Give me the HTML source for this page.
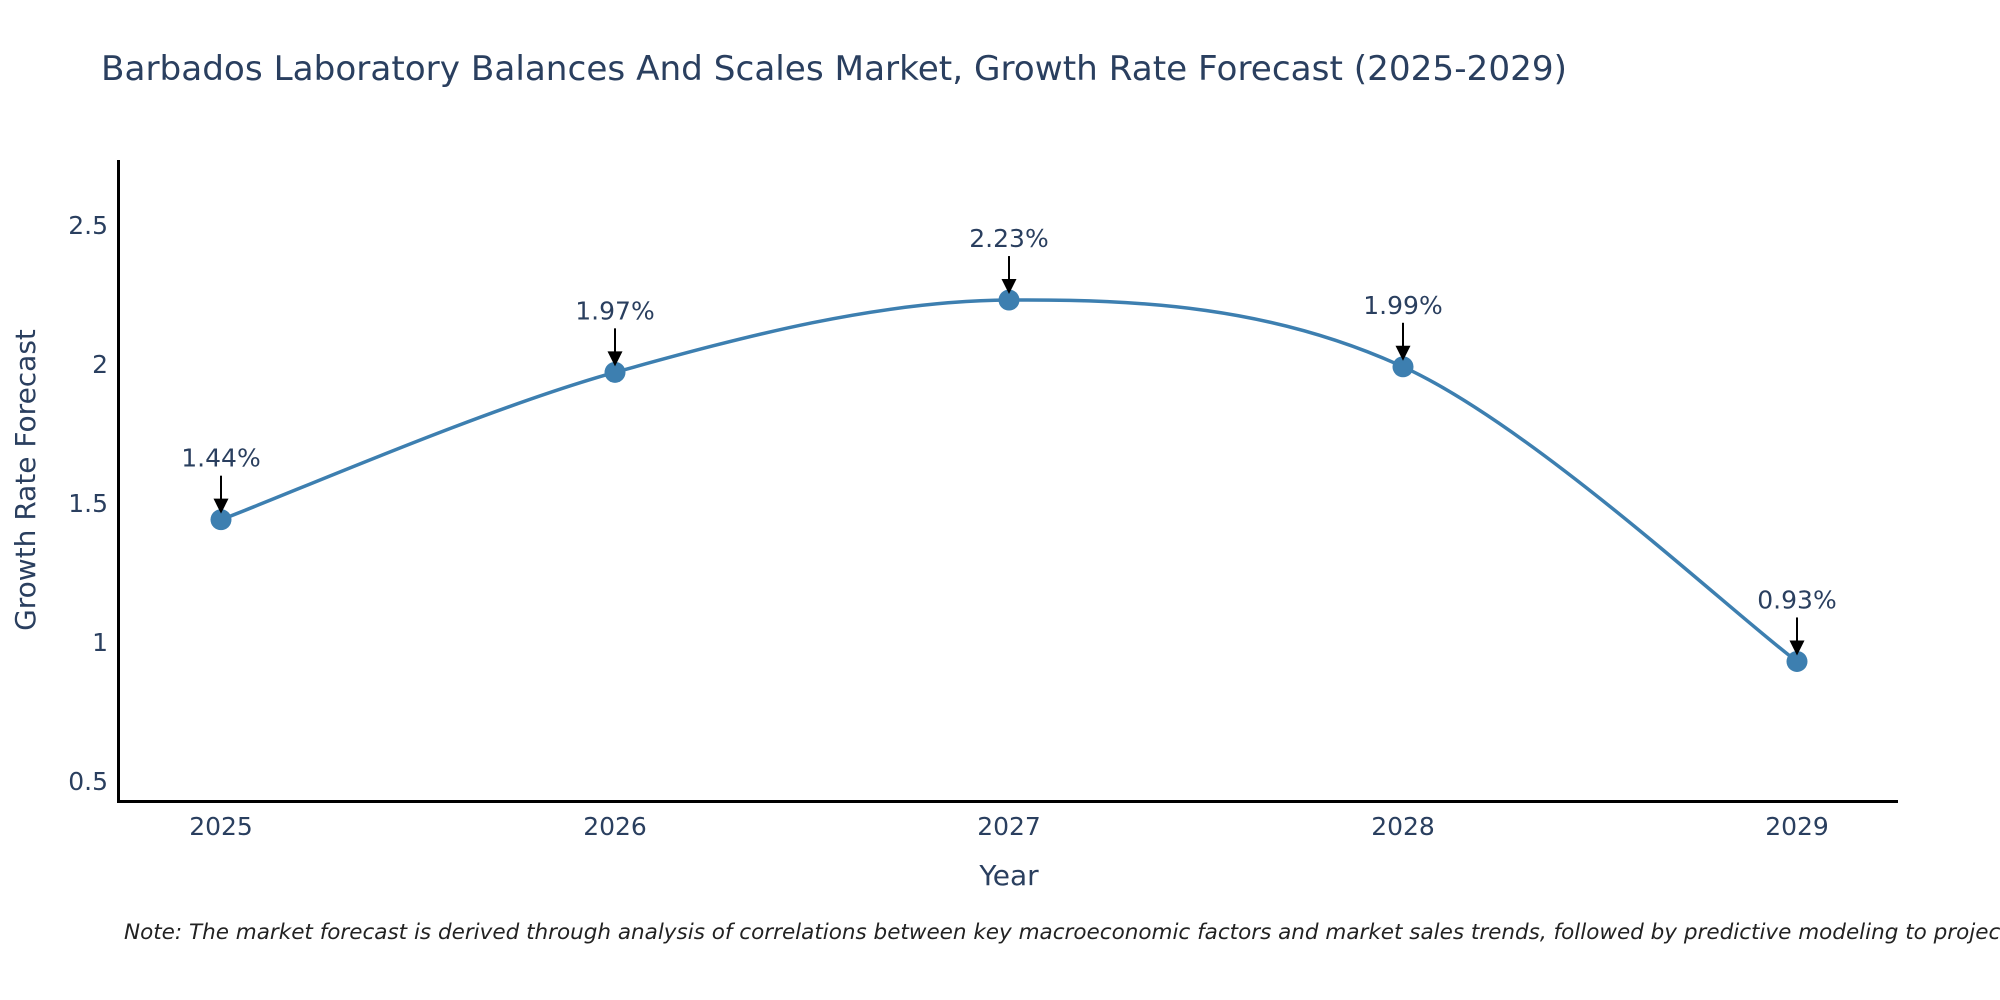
<!DOCTYPE html>
<html><head><meta charset="utf-8"><style>
html,body{margin:0;padding:0;background:#fff;overflow:hidden;}
svg{display:block;font-family:"DejaVu Sans","Liberation Sans",sans-serif;}
</style></head><body>
<svg id="chart" width="2000" height="1000" viewBox="0 0 2000 1000">
<text x="101" y="80" font-size="34" fill="#2a3f5f" textLength="1466" lengthAdjust="spacingAndGlyphs">Barbados Laboratory Balances And Scales Market, Growth Rate Forecast (2025-2029)</text>
<g id="yticks"></g>
<g id="xticks"></g>
<line x1="118.5" y1="160" x2="118.5" y2="802" stroke="#000" stroke-width="3"/>
<line x1="117" y1="801.5" x2="1898" y2="801.5" stroke="#000" stroke-width="3"/>
<text x="0" y="0" transform="translate(35,480) rotate(-90)" text-anchor="middle" font-size="28" fill="#2a3f5f">Growth Rate Forecast</text>
<text x="1009" y="885" text-anchor="middle" font-size="28" fill="#2a3f5f">Year</text>
<g id="series"></g>
<text x="124" y="939" font-size="21.5" font-style="italic" fill="#222">Note: The market forecast is derived through analysis of correlations between key macroeconomic factors and market sales trends, followed by predictive modeling to project future sales.</text>
</svg>
<script>
const years = [2025, 2026, 2027, 2028, 2029];
const growth = [1.44, 1.97, 2.23, 1.99, 0.93];
const yTickValues = [0.5, 1, 1.5, 2, 2.5];
const yTickLabels = ["0.5", "1", "1.5", "2", "2.5"];

const NS = "http://www.w3.org/2000/svg";
function xScale(v){ return 221 + (v - 2025) * (1797 - 221) / 4; }
function yScale(v){ return 781 - (v - 0.5) * (781 - 225) / 2; }
function mk(tag, attrs, parent){ const e = document.createElementNS(NS, tag); for (const k in attrs) e.setAttribute(k, attrs[k]); parent.appendChild(e); return e; }

const yt = document.getElementById('yticks');
yTickValues.forEach((v, i) => {
  const t = mk('text', {x: 108, y: yScale(v) + 9, 'text-anchor': 'end', 'font-size': 25, fill: '#2a3f5f'}, yt);
  
  
  t.textContent = yTickLabels[i];
});
const xt = document.getElementById('xticks');
years.forEach(y => {
  const t = mk('text', {x: xScale(y), y: 835, 'text-anchor': 'middle', 'font-size': 25, fill: '#2a3f5f'}, xt);
  
  
  t.textContent = String(y);
});

const s = document.getElementById('series');
const pts = years.map((y, i) => [xScale(y), yScale(growth[i])]);
let d = 'M' + pts[0][0] + ',' + pts[0][1];
const k = 1/6;
for (let i = 0; i < pts.length - 1; i++) {
  const p0 = pts[Math.max(0, i-1)], p1 = pts[i], p2 = pts[i+1], p3 = pts[Math.min(pts.length-1, i+2)];
  const c1 = [p1[0] + (p2[0]-p0[0])*k, p1[1] + (p2[1]-p0[1])*k];
  const c2 = [p2[0] - (p3[0]-p1[0])*k, p2[1] - (p3[1]-p1[1])*k];
  d += ' C' + c1[0] + ',' + c1[1] + ' ' + c2[0] + ',' + c2[1] + ' ' + p2[0] + ',' + p2[1];
}
const line = mk('path', {d: d, fill: 'none', stroke: '#3d7fb0', 'stroke-width': 3.5}, s);



pts.forEach((p, i) => {
  const c = mk('circle', {cx: p[0], cy: p[1], r: 10.5, fill: '#3d7fb0'}, s);
  
  
  const a = mk('line', {x1: p[0], y1: p[1] - 44, x2: p[0], y2: p[1] - 18, stroke: '#000', 'stroke-width': 2}, s);
  
  
  const h = mk('polygon', {points: (p[0]-7.5)+','+(p[1]-21)+' '+(p[0]+7.5)+','+(p[1]-21)+' '+p[0]+','+(p[1]-6)}, s);
  h.setAttribute('fill', '#000');
  
  
  const t = mk('text', {x: p[0], y: p[1] - 53, 'text-anchor': 'middle', 'font-size': 25, fill: '#2a3f5f'}, s);
  
  
  t.textContent = growth[i].toFixed(2) + '%';
});
</script>
</body></html>
